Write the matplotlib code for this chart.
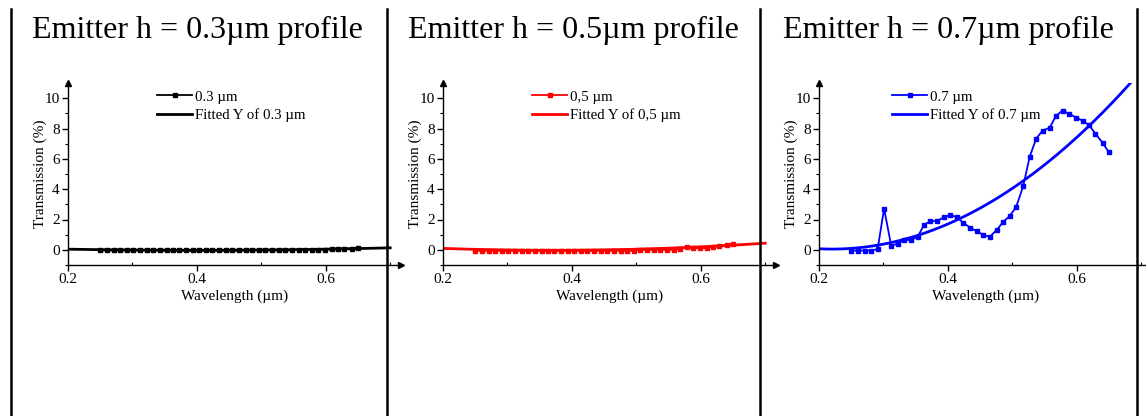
import numpy as np
import matplotlib
matplotlib.use("Agg")
import matplotlib.pyplot as plt
from matplotlib.lines import Line2D

plt.rcParams['font.family'] = ['Liberation Serif', 'DejaVu Serif']

# Wavelength samples (µm)
wavelength = [0.250, 0.260, 0.271, 0.281, 0.291, 0.301, 0.312, 0.322, 0.332, 0.342,
              0.353, 0.363, 0.373, 0.383, 0.394, 0.404, 0.414, 0.424, 0.435, 0.445,
              0.455, 0.465, 0.476, 0.486, 0.496, 0.506, 0.517, 0.527, 0.537, 0.547,
              0.558, 0.568, 0.578, 0.588, 0.599, 0.609, 0.619, 0.629, 0.640, 0.650]

# Transmission (%) for each emitter height
trans_03 = [-0.04] * 30 + [0.02, 0.02, 0.02, 0.02, 0.02, 0.08, 0.08, 0.08, 0.08, 0.15]
trans_05 = [-0.06] * 25 + [0.0, 0.0, 0.0, 0.0, 0.0, 0.0,
                           0.07, 0.18, 0.11, 0.11, 0.11, 0.20, 0.26, 0.33, 0.40]
trans_07 = [-0.05, -0.05, -0.05, -0.05, 0.05, 2.72, 0.28, 0.40, 0.65, 0.65,
            0.85, 1.65, 1.90, 1.90, 2.15, 2.30, 2.15, 1.78, 1.45, 1.22,
            0.98, 0.86, 1.32, 1.85, 2.23, 2.83, 4.22, 6.14, 7.33, 7.86,
            8.05, 8.85, 9.18, 8.98, 8.72, 8.52, 8.22, 7.66, 7.06, 6.42]

# Quadratic fit coefficients (highest power first) for each series
fit_03 = [1.8, -1.44, 0.258]
fit_05 = [4.3, -3.182, 0.5587]
fit_07 = [51.0, -22.44, 2.518]

titles = ["Emitter h = 0.3\u00b5m profile", "Emitter h = 0.5\u00b5m profile",
          "Emitter h = 0.7\u00b5m profile"]
series_labels = ["0.3 \u00b5m", "0,5 \u00b5m", "0.7 \u00b5m"]
fit_labels = ["Fitted Y of 0.3 \u00b5m", "Fitted Y of 0,5 \u00b5m", "Fitted Y of 0.7 \u00b5m"]
colors = ["#000000", "#ff0000", "#0000ff"]
series = [trans_03, trans_05, trans_07]
fits = [fit_03, fit_05, fit_07]

W, H = 1146, 416
fig = plt.figure(figsize=(W / 100, H / 100), dpi=100)

ax_lefts = [68, 443, 819]
title_cx = [197.5, 573, 948.5]
legend_x = [0.267, 0.267, 0.219]
ax_w = 400.5 - 68
ax_top, ax_bot = 83, 265

fit_x = np.linspace(0.2, 0.7, 300)

for i in range(3):
    ax = fig.add_axes([ax_lefts[i] / W, 1 - ax_bot / H, ax_w / W, (ax_bot - ax_top) / H])
    c = colors[i]
    ax.plot(wavelength, series[i], '-s', color=c, lw=1.3, ms=3.3, label=series_labels[i])
    ax.plot(fit_x, np.polyval(fits[i], fit_x), '-', color=c, lw=2.0, label=fit_labels[i])

    ax.set_xlim(0.2, 0.716)
    ax.set_ylim(-1, 11)
    ax.set_xticks([0.2, 0.4, 0.6])
    ax.set_xticklabels(["0.2", "0.4", "0.6"])
    ax.set_xticks([0.3, 0.5, 0.7], minor=True)
    ax.set_yticks([0, 2, 4, 6, 8, 10])
    ax.set_yticks([-1, 1, 3, 5, 7, 9], minor=True)
    for s in ("top", "right"):
        ax.spines[s].set_visible(False)
    for s in ("left", "bottom"):
        ax.spines[s].set_linewidth(1.0)
    ax.tick_params(which='major', direction='out', length=4, width=1.0,
                   labelsize=11, pad=2)
    ax.tick_params(which='minor', direction='out', length=2.5, width=0.8)
    ax.tick_params(axis='x', which='minor', direction='in')

    # arrowheads at axis ends
    ax.plot(1, 0, ">", color='k', ms=5, transform=ax.transAxes, clip_on=False)
    ax.plot(0, 1, "^", color='k', ms=5, transform=ax.transAxes, clip_on=False)

    ax.set_xlabel("Wavelength (\u00b5m)", fontsize=11, labelpad=2)
    ax.set_ylabel("Transmission (%)", fontsize=11, labelpad=-2)

    ax.legend(loc='upper left', bbox_to_anchor=(legend_x[i], 0.96), frameon=False,
              fontsize=10.7, handlelength=2.4, handletextpad=0.15, labelspacing=0.3,
              borderpad=0, borderaxespad=0)

    fig.text(title_cx[i] / W, 1 - 30 / H, titles[i], fontsize=23,
             ha='center', va='center')

# panel divider lines
for xp in [11, 386.5, 760, 1137]:
    fig.add_artist(Line2D([xp / W, xp / W], [0, 1 - 9 / H], color='k', lw=1.8))

fig.savefig("out.png", dpi=100)
